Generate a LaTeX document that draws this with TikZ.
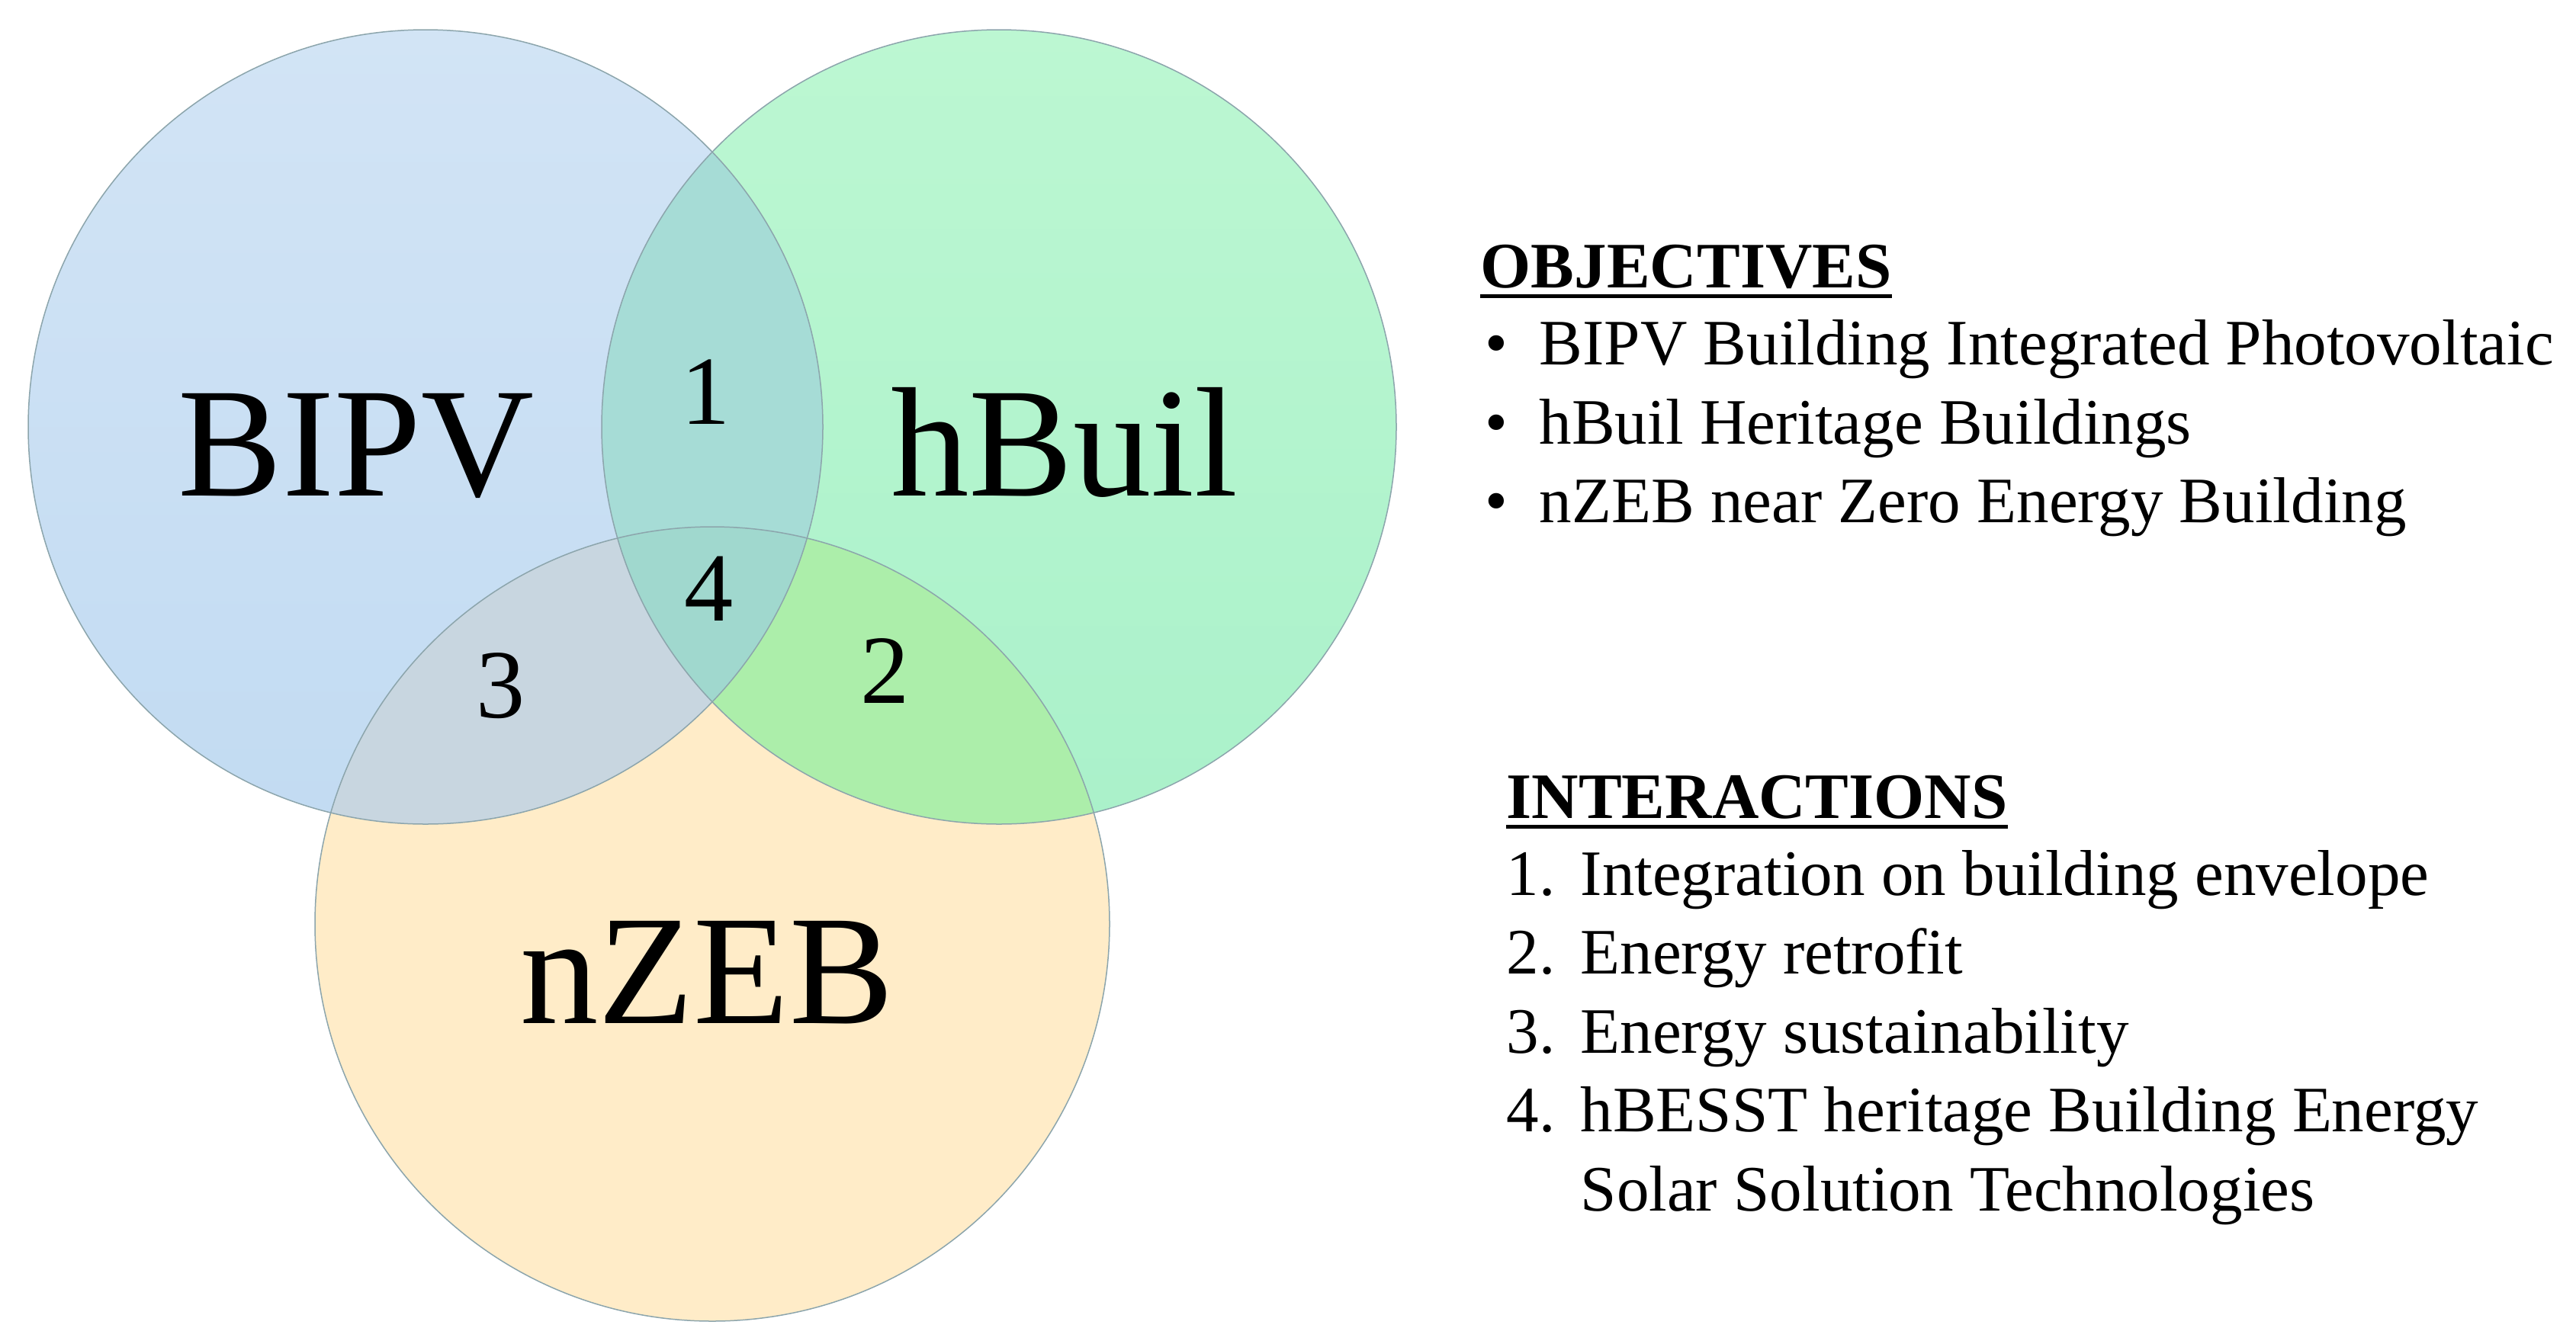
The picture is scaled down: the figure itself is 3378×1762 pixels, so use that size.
\documentclass[tikz,border=0pt]{standalone}
\usepackage{fontspec}
\setmainfont{Liberation Serif}
\usetikzlibrary{calc}

\definecolor{pvtop}{RGB}{210,228,245}
\definecolor{pvbot}{RGB}{194,219,242}
\definecolor{hbtop}{RGB}{188,247,210}
\definecolor{hbbot}{RGB}{170,241,202}
\definecolor{zebfill}{RGB}{255,236,200}
\definecolor{onefill}{RGB}{166,220,214}
\definecolor{twofill}{RGB}{172,238,170}
\definecolor{threefill}{RGB}{200,214,224}
\definecolor{fourfill}{RGB}{160,216,206}
\definecolor{rimline}{RGB}{140,165,172}

\tikzset{
  bigname/.style={anchor=base,inner sep=0pt,font=\fontsize{58.3}{62}\selectfont},
  regnum/.style={anchor=base,inner sep=0pt,font=\fontsize{36.5}{40}\selectfont},
  listhead/.style={anchor=base west,inner sep=0pt,font=\fontsize{24.2}{28}\selectfont\bfseries},
  listtext/.style={anchor=base west,inner sep=0pt,font=\fontsize{24.2}{28}\selectfont},
  rim/.style={draw=rimline,line width=0.15mm}
}

\begin{document}
\begin{tikzpicture}[x=0.1mm,y=-0.1mm]
	\useasboundingbox (0,0) rectangle (3378,1762);
	% the three sets
	\coordinate (pv) at (558,560);
	\coordinate (hb) at (1310,560);
	\coordinate (zeb) at (934,1212);
	\fill[zebfill] (zeb) circle[radius=52.1mm];
	\shade[top color=pvtop,bottom color=pvbot] (pv) circle[radius=52.1mm];
	\shade[top color=hbtop,bottom color=hbbot] (hb) circle[radius=52.1mm];
	% overlaps
	\begin{scope}
		\clip (pv) circle[radius=52.1mm];
		\fill[onefill] (hb) circle[radius=52.1mm];
		\fill[threefill] (zeb) circle[radius=52.1mm];
	\end{scope}
	\begin{scope}
		\clip (hb) circle[radius=52.1mm];
		\fill[twofill] (zeb) circle[radius=52.1mm];
		\clip (pv) circle[radius=52.1mm];
		\fill[fourfill] (zeb) circle[radius=52.1mm];
	\end{scope}
	\draw[rim] (pv) circle[radius=52.1mm];
	\draw[rim] (hb) circle[radius=52.1mm];
	\draw[rim] (zeb) circle[radius=52.1mm];
	% labels
	\node[bigname] (bipv) at (467,650) {BIPV};
	\node[bigname] (hbuil) at (1396,650) {hBuil};
	\node[bigname] (nzeb) at (927,1342) {nZEB};
	\node[regnum] (one) at (926,556) {1};
	\node[regnum] (two) at (1161,922) {2};
	\node[regnum] (three) at (657,941) {3};
	\node[regnum] (four) at (930,814) {4};
	% objectives
	\node[listhead] (objhead) at (1941,377) {OBJECTIVES};
	\draw[line width=0.5mm] ($(objhead.base west)+(0,11)$) -- ($(objhead.base east)+(0,11)$);
	\node[listtext] (objdot1) at (1947,478) {•};
	\node[listtext] (objdot2) at (1947,582) {•};
	\node[listtext] (objdot3) at (1947,685) {•};
	\node[listtext] (obj1) at (2018,478) {BIPV Building Integrated Photovoltaic};
	\node[listtext] (obj2) at (2018,582) {hBuil Heritage Buildings};
	\node[listtext] (obj3) at (2018,685) {nZEB near Zero Energy Building};
	% interactions
	\node[listhead] (inthead) at (1975,1073) {INTERACTIONS};
	\draw[line width=0.5mm] ($(inthead.base west)+(0,11)$) -- ($(inthead.base east)+(0,11)$);
	\node[listtext] (intnum1) at (1975,1174) {1.};
	\node[listtext] (intnum2) at (1975,1277) {2.};
	\node[listtext] (intnum3) at (1975,1381) {3.};
	\node[listtext] (intnum4) at (1975,1484) {4.};
	\node[listtext] (int1) at (2072,1174) {Integration on building envelope};
	\node[listtext] (int2) at (2072,1277) {Energy retrofit};
	\node[listtext] (int3) at (2072,1381) {Energy sustainability};
	\node[listtext] (int4) at (2072,1484) {hBESST heritage Building Energy};
	\node[listtext] (int4b) at (2072,1588) {Solar Solution Technologies};
\end{tikzpicture}
\end{document}
